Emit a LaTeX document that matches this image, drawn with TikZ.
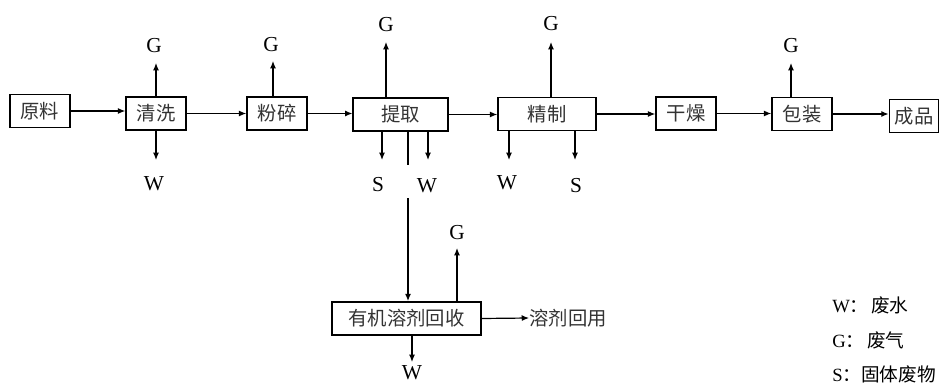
\documentclass[tikz,border=0pt]{standalone}
\usepackage{fontspec}
\setmainfont{Liberation Serif}
\newfontfamily\cjk{Noto Sans CJK SC}
\usetikzlibrary{arrows.meta}
\begin{document}
\begin{tikzpicture}[x=0.75pt,y=-0.75pt,
  box/.style={draw,line width=1.1pt,inner sep=0pt,minimum height=25pt,font=\cjk\fontsize{14.5}{16}\selectfont,text=black!80},
  arr/.style={line width=0.9pt,-{Latex[length=5.5pt,width=4.5pt]}},
  plain/.style={line width=0.9pt},
  lab/.style={inner sep=0pt,font=\fontsize{16}{18}\selectfont},
  leg/.style={inner sep=0pt,anchor=west,font=\fontsize{14}{18}\selectfont}]
\useasboundingbox (0,0) rectangle (940,385);
% main boxes
\node[box,minimum width=45pt] (yl) at (40,111) {原料};
\node[box,minimum width=45pt] (qx) at (156,113.5) {清洗};
\node[box,minimum width=45pt] (fs) at (277,113.5) {粉碎};
\node[box,minimum width=71pt] (tq) at (400.5,114.5) {提取};
\node[box,minimum width=73.5pt] (jz) at (547,114) {精制};
\node[box,minimum width=45pt] (gz) at (686,113.5) {干燥};
\node[box,minimum width=45pt] (bz) at (802,114) {包装};
\node[box,minimum width=37pt] (cp) at (914,116) {成品};
\node[box,minimum width=112pt] (yj) at (406.5,318.5) {有机溶剂回收};
\node[inner sep=0pt,font=\cjk\fontsize{14.5}{16}\selectfont,text=black!80] (hy) at (568,318) {溶剂回用};
% main flow
\draw[arr] (yl.east) -- (yl.east -| qx.west);
\draw[arr] (qx.east) -- (qx.east -| fs.west);
\draw[arr] (fs.east) -- (fs.east -| tq.west);
\draw[arr] (tq.east) -- (tq.east -| jz.west);
\draw[arr] (jz.east) -- (jz.east -| gz.west);
\draw[arr] (gz.east) -- (gz.east -| bz.west);
\draw[arr] (bz.east) -- (bz.east -| cp.west);
% emission end points
\coordinate (qxg) at (156,63);
\coordinate (qxw) at (156,160);
\coordinate (fsg) at (273,61);
\coordinate (tqg) at (386,42);
\coordinate (tqs) at (382,160);
\coordinate (tqw) at (428,160);
\coordinate (tqa) at (408,165);
\coordinate (tqb) at (408,198);
\coordinate (jzg) at (551,42);
\coordinate (jzw) at (509,160);
\coordinate (jzs) at (575,160);
\coordinate (bzg) at (791,63);
\coordinate (yjg) at (457,248);
\coordinate (yjw) at (412,362);
% emissions
\draw[arr] (qx.north -| qxg) -- (qxg);
\draw[arr] (qx.south -| qxw) -- (qxw);
\draw[arr] (fs.north -| fsg) -- (fsg);
\draw[arr] (tq.north -| tqg) -- (tqg);
\draw[arr] (tq.south -| tqs) -- (tqs);
\draw[arr] (tq.south -| tqw) -- (tqw);
\draw[plain] (tq.south -| tqa) -- (tqa);
\draw[arr] (tqb) -- (yj.north -| tqb);
\draw[arr] (jz.north -| jzg) -- (jzg);
\draw[arr] (jz.south -| jzw) -- (jzw);
\draw[arr] (jz.south -| jzs) -- (jzs);
\draw[arr] (bz.north -| bzg) -- (bzg);
\draw[arr] (yj.north -| yjg) -- (yjg);
\draw[arr] (yj.south -| yjw) -- (yjw);
\draw[arr] (yj.east) -- (hy.west);
% labels
\node[lab] (lqg) at (154,46) {G};
\node[lab] (lqw) at (154,184) {W};
\node[lab] (lfg) at (271,45) {G};
\node[lab] (ltg) at (386,25) {G};
\node[lab] (lts) at (378,185) {S};
\node[lab] (ltw) at (427,186) {W};
\node[lab] (ljg) at (551,24) {G};
\node[lab] (ljw) at (507,183) {W};
\node[lab] (ljs) at (576,186) {S};
\node[lab] (lbg) at (791,46) {G};
\node[lab] (lyg) at (457,233) {G};
\node[lab] (lyw) at (412,373) {W};
% legend
\node[leg] (lg1) at (832,305) {W{\cjk：\hspace{2pt}废水}};
\node[leg] (lg2) at (832,340) {G{\cjk：\hspace{2pt}废气}};
\node[leg] (lg3) at (832,374) {S{\cjk：固体废物}};
\end{tikzpicture}
\end{document}
